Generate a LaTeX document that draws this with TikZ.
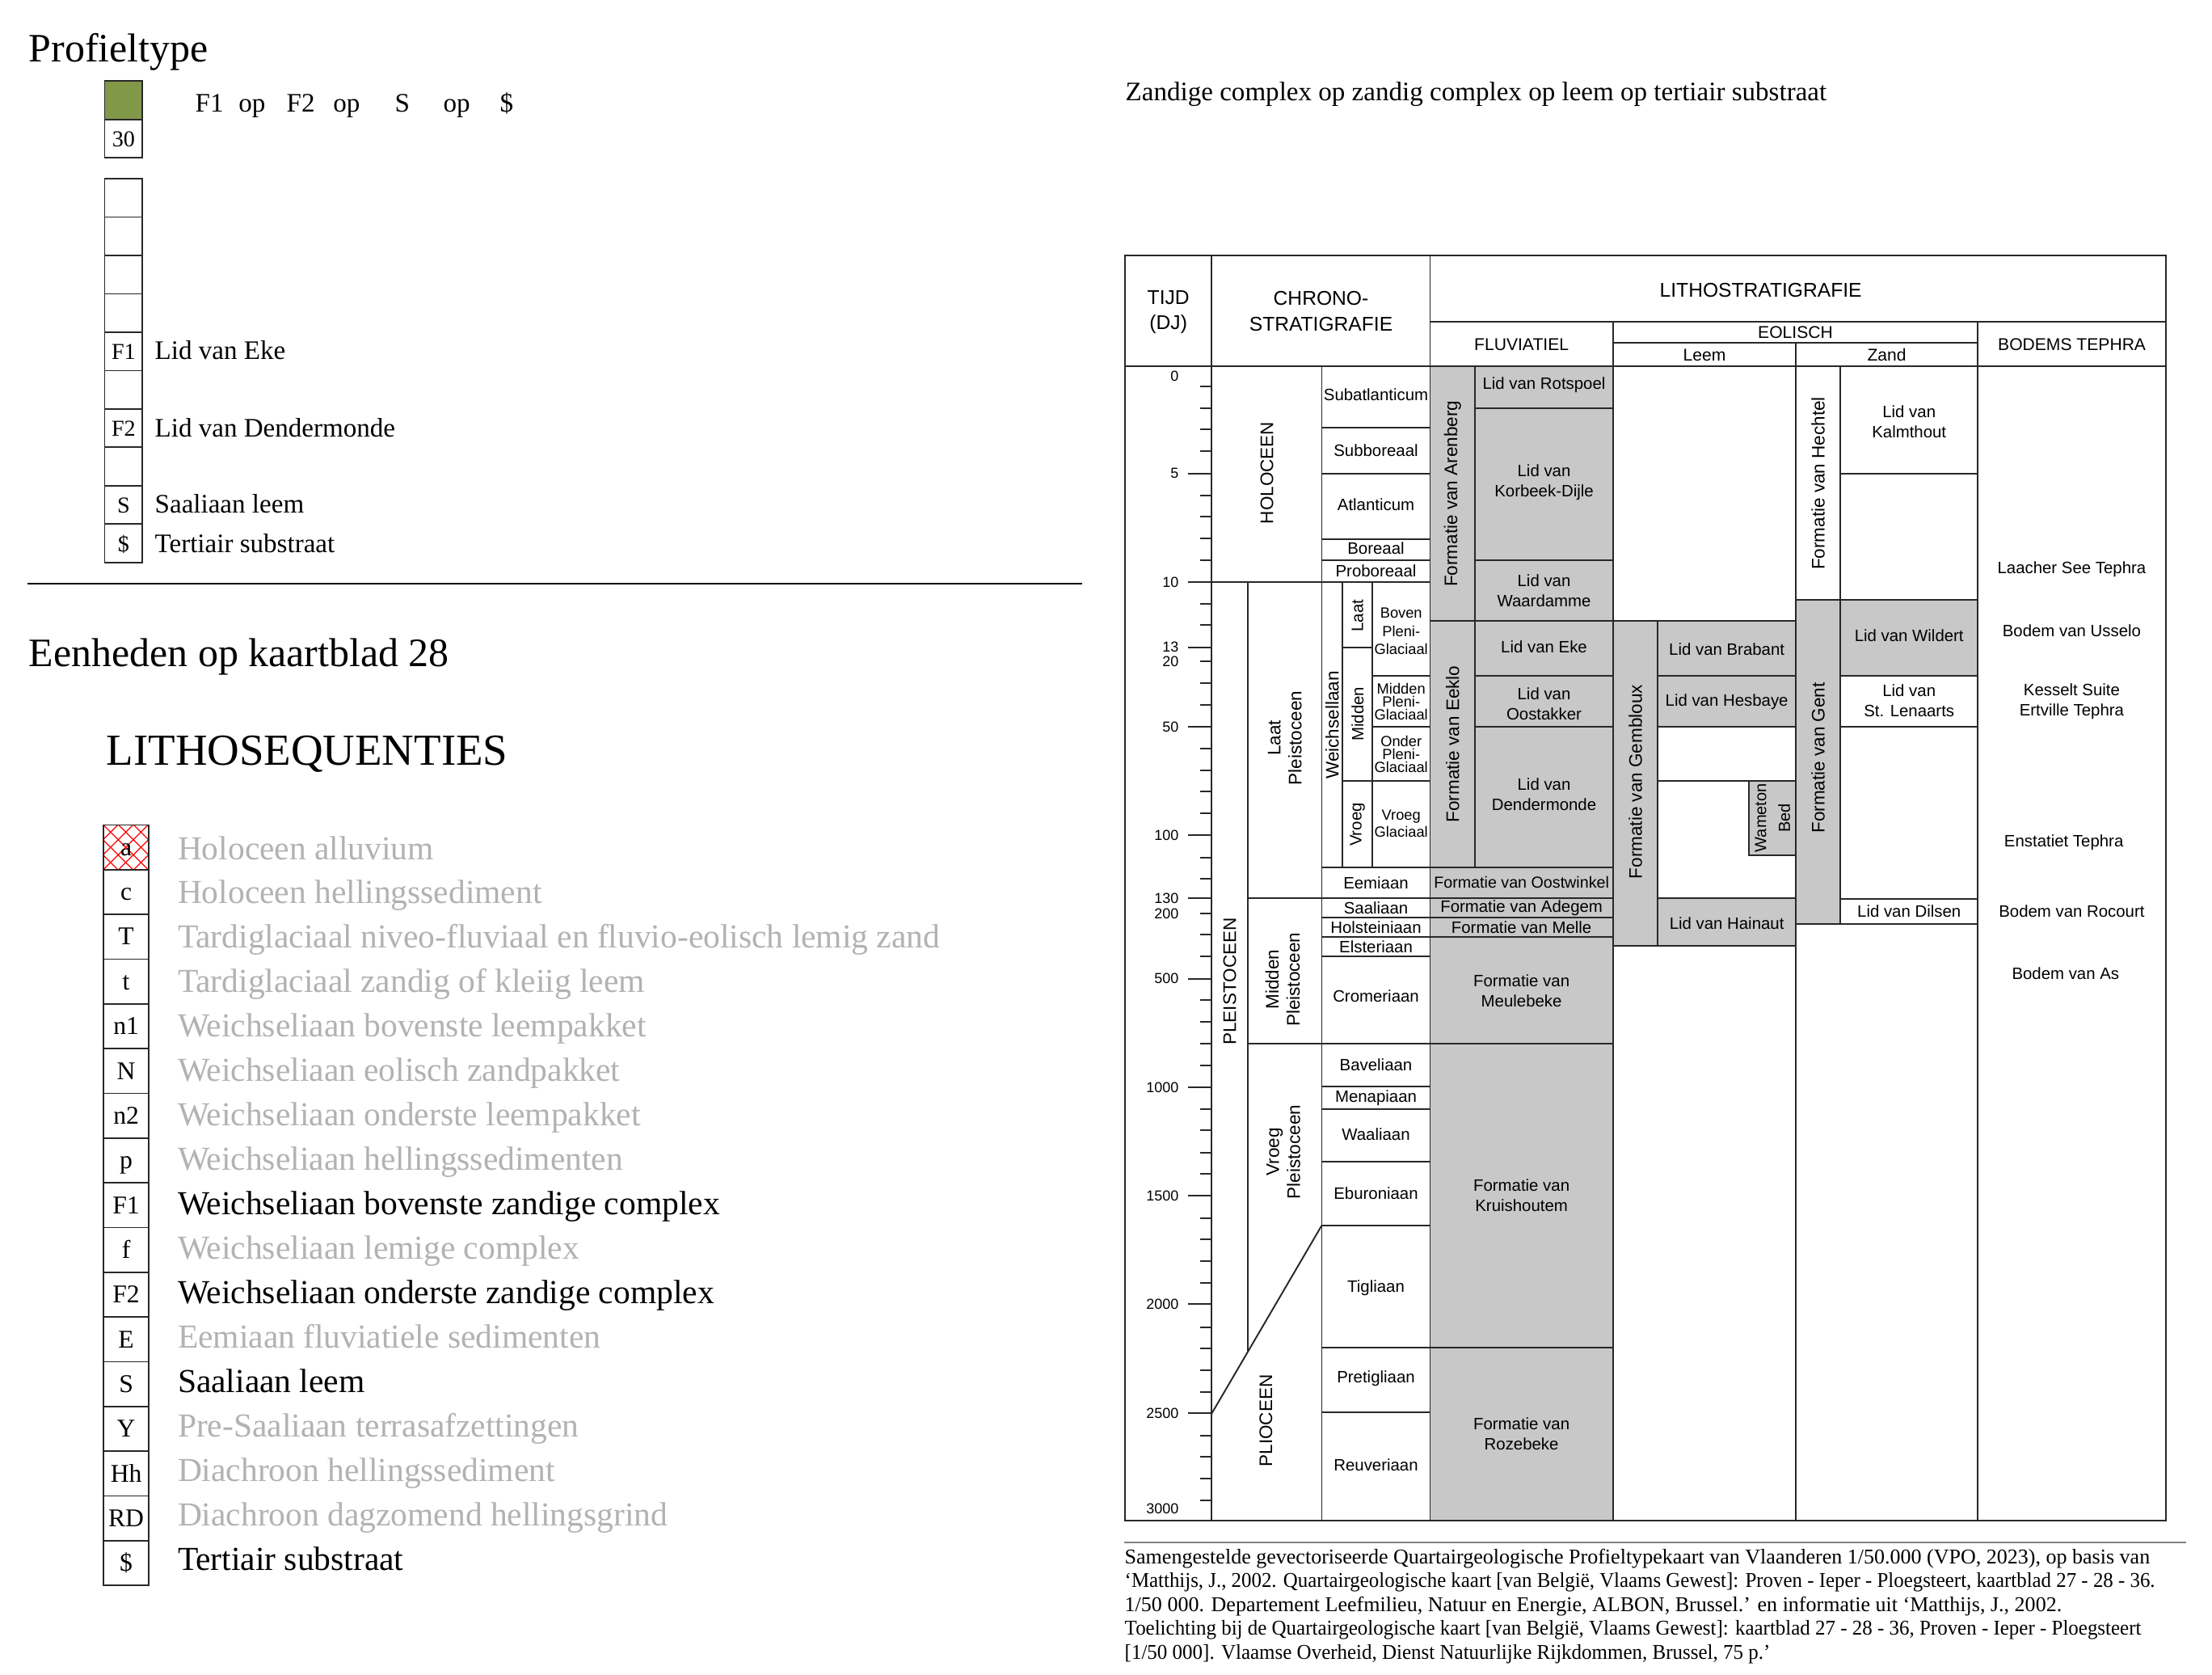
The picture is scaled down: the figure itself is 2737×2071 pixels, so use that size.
\documentclass[tikz,border=0pt]{standalone}
\usepackage{fontspec}
\setmainfont{Liberation Serif}
\newfontfamily\chartfont{Liberation Sans}
\definecolor{gfill}{RGB}{200,200,200}
\definecolor{olivegr}{RGB}{130,152,73}
\definecolor{ltext}{RGB}{178,178,178}
\definecolor{lin}{RGB}{40,40,40}
\begin{document}
\begin{tikzpicture}[x=0.01cm,y=-0.01cm,
  cl/.style={draw=lin, line width=0.55pt},
  gcell/.style={cl, fill=gfill},
  wcell/.style={cl, fill=white},
  outer/.style={draw=lin, line width=0.8pt},
  ct/.style={font=\chartfont\fontsize{5.8}{7.1}\selectfont, align=center, inner sep=0pt},
  cts/.style={font=\chartfont\fontsize{5.2}{6.4}\selectfont, align=center, inner sep=0pt},
  ctr/.style={font=\chartfont\fontsize{6.4}{7.4}\selectfont, align=center, inner sep=0pt, rotate=90},
  ctrs/.style={font=\chartfont\fontsize{5.8}{7}\selectfont, align=center, inner sep=0pt, rotate=90},
  hd/.style={font=\chartfont\fontsize{7}{8.9}\selectfont, align=center, inner sep=0pt},
  sh/.style={font=\chartfont\fontsize{6}{7}\selectfont, inner sep=0pt},
  tk/.style={font=\chartfont\fontsize{5.1}{6}\selectfont, anchor=east, inner sep=0pt},
  sbox/.style={draw=lin, line width=0.5pt, minimum width=0.468cm, minimum height=0.4746cm, inner sep=0pt, font=\fontsize{8}{9}\selectfont, text height=0.68em, text depth=0.1em},
  legbox/.style={draw=lin, line width=0.5pt, minimum width=0.562cm, minimum height=0.5534cm, inner sep=0pt, font=\fontsize{9}{10}\selectfont, text height=0.68em, text depth=0.1em},
  legtext/.style={font=\fontsize{11.8}{13}\selectfont, anchor=base west, inner sep=0pt},
  ser/.style={font=\fontsize{9.4}{11}\selectfont, anchor=base west, inner sep=0pt},
  big/.style={font=\fontsize{14.2}{16}\selectfont, anchor=base west, inner sep=0pt},
  captxt/.style={font=\fontsize{7.4}{8.4}\selectfont, anchor=base west, inner sep=0pt}
]
\useasboundingbox (0,0) rectangle (2737,2071);
\fill[white] (0,0) rectangle (2737,2071);

% ---------------- Profieltype ----------------
\node[big] (ptitle) at (35,76.8) {Profieltype};
\fill[olivegr] (129.5,100) rectangle (176.3,148);
\draw[draw=lin, line width=0.5pt] (129.5,100) rectangle (176.3,148);
\node[sbox] (p30) at (152.9,171.3) {30};
\node[ser] (f1a) at (241,138) {F1};
\node[ser] (op1) at (294.6,138) {op};
\node[ser] (f2a) at (354,138) {F2};
\node[ser] (op2) at (411.6,138) {op};
\node[ser] (sa) at (488,138) {S};
\node[ser] (op3) at (548,138) {op};
\node[ser] (da) at (618,138) {\$};
\foreach \i/\c in {1/,2/,3/,4/,5/F1,6/,7/F2,8/,9/S,10/\$}{
  \pgfmathsetmacro{\yc}{221.1+(\i-0.5)*47.46}
  \node[sbox] (sb\i) at (152.9,\yc) {\c};
}
\node[ser] (eke) at (191,444.6) {Lid van Eke};
\node[ser] (dend) at (191,540) {Lid van Dendermonde};
\node[ser] (saal) at (191,634) {Saaliaan leem};
\node[ser] (tert) at (191,683.4) {Tertiair substraat};
\draw[black, line width=0.6pt] (33.5,721.6) -- (1339,721.6);

% ---------------- Eenheden ----------------
\node[big] (eenh) at (35,824) {Eenheden op kaartblad 28};
\node[big, font=\fontsize{15.6}{17}\selectfont] (lithoseq) at (131,946) {LITHOSEQUENTIES};
\begin{scope}
  \clip (128,1020.4) rectangle (184.2,1075.7);
  \foreach \k in {-4,...,4}{
    \draw[red, line width=0.35pt] (128+\k*18.73,1020.4) -- ++(56,56);
    \draw[red, line width=0.35pt] (128+\k*18.73,1075.7) -- ++(56,-56);
  }
\end{scope}
\foreach \i/\c/\t/\col in {
 1/a/Holoceen alluvium/ltext,
 2/c/Holoceen hellingssediment/ltext,
 3/T/Tardiglaciaal niveo-fluviaal en fluvio-eolisch lemig zand/ltext,
 4/t/Tardiglaciaal zandig of kleiig leem/ltext,
 5/n1/Weichseliaan bovenste leempakket/ltext,
 6/N/Weichseliaan eolisch zandpakket/ltext,
 7/n2/Weichseliaan onderste leempakket/ltext,
 8/p/Weichseliaan hellingssedimenten/ltext,
 9/F1/Weichseliaan bovenste zandige complex/black,
 10/f/Weichseliaan lemige complex/ltext,
 11/F2/Weichseliaan onderste zandige complex/black,
 12/E/Eemiaan fluviatiele sedimenten/ltext,
 13/S/Saaliaan leem/black,
 14/Y/Pre-Saaliaan terrasafzettingen/ltext,
 15/Hh/Diachroon hellingssediment/ltext,
 16/RD/Diachroon dagzomend hellingsgrind/ltext,
 17/\$/Tertiair substraat/black}{
  \pgfmathsetmacro{\yc}{1020.4+(\i-0.5)*55.34}
  \pgfmathsetmacro{\yt}{1063+(\i-1)*54.95}
  \node[legbox] (lb\i) at (156.1,\yc) {\c};
  \node[legtext, text=\col] (lt\i) at (219.3,\yt) {\t};
}

% ---------------- right title ----------------
\node[ser] (ztitle) at (1392,124) {Zandige complex op zandig complex op leem op tertiair substraat};

% ---------------- chart: chrono cells ----------------
\draw[wcell] (1499.4,453.3) rectangle (1635.5,720);
\foreach \a/\b in {453.3/529.3,529.3/585.7,585.7/666.7,666.7/692.7,692.7/720,
  1072.7/1111,1111/1135.3,1135.3/1159.3,1159.3/1183,1183/1291,1291/1344,1344/1371.7,
  1371.7/1437.3,1437.3/1515.7,1515.7/1666.7,1666.7/1746.7,1746.7/1881}
  \draw[cl] (1635.5,\a) rectangle (1769.5,\b);
\draw[cl] (1544,720) rectangle (1635.5,1111);
\draw[cl] (1544,1111) rectangle (1635.5,1291);
\draw[cl] (1544,1291) -- (1544,1672);
\draw[cl] (1635.5,1291) -- (1635.5,1881);
\draw[cl] (1635.5,1515.7) -- (1499.4,1748.3);
\draw[cl] (1635.5,720) rectangle (1661.4,1072.7);
\draw[cl] (1661.4,720) rectangle (1698,800.7);
\draw[cl] (1661.4,800.7) rectangle (1698,965.7);
\draw[cl] (1661.4,965.7) rectangle (1698,1072.7);
\draw[cl] (1698,720) rectangle (1769.5,835.7);
\draw[cl] (1698,835.7) rectangle (1769.5,899);
\draw[cl] (1698,899) rectangle (1769.5,965.7);
\draw[cl] (1698,965.7) rectangle (1769.5,1072.7);

% ---------------- chart: fluviatiel ----------------
\draw[gcell] (1769.5,453.3) rectangle (1825.3,768.3);
\draw[gcell] (1825.3,453.3) rectangle (1995.8,505);
\draw[gcell] (1825.3,505) rectangle (1995.8,692.7);
\draw[gcell] (1825.3,692.7) rectangle (1995.8,768.3);
\draw[gcell] (1769.5,768.3) rectangle (1825.3,1072.7);
\draw[gcell] (1825.3,768.3) rectangle (1995.8,835.7);
\draw[gcell] (1825.3,835.7) rectangle (1995.8,899);
\draw[gcell] (1825.3,899) rectangle (1995.8,1072.7);
\foreach \a/\b in {1072.7/1111,1111/1135.3,1135.3/1159.3,1159.3/1291,1291/1666.7,1666.7/1881}
  \draw[gcell] (1769.5,\a) rectangle (1995.8,\b);

% ---------------- chart: eolisch leem ----------------
\draw[gcell] (1995.8,768.3) rectangle (2051.3,1170);
\draw[gcell] (2051.3,768.3) rectangle (2222,835.7);
\draw[gcell] (2051.3,835.7) rectangle (2222,899);
\draw[wcell] (2051.3,899) rectangle (2222,965.7);
\draw[wcell] (2051.3,965.7) rectangle (2222,1111);
\draw[gcell] (2164.3,965.7) rectangle (2222,1057.7);
\draw[gcell] (2051.3,1111) rectangle (2222,1170);

% ---------------- chart: eolisch zand ----------------
\draw[wcell] (2222,453.3) rectangle (2277.2,741.7);
\draw[wcell] (2277.2,453.3) rectangle (2447.3,585.7);
\draw[wcell] (2277.2,585.7) rectangle (2447.3,741.7);
\draw[gcell] (2222,741.7) rectangle (2277.2,1143.3);
\draw[gcell] (2277.2,741.7) rectangle (2447.3,835.7);
\draw[wcell] (2277.2,835.7) rectangle (2447.3,899);
\draw[wcell] (2277.2,899) rectangle (2447.3,1112);
\draw[wcell] (2277.2,1112) rectangle (2447.3,1143.3);

% ---------------- chart: frame ----------------
\draw[cl] (1769.5,398.3) -- (2680,398.3);
\draw[cl] (1995.8,424.3) -- (2447.3,424.3);
\draw[cl] (1392,453.3) -- (2680,453.3);
\draw[cl] (1499.4,316) -- (1499.4,1881);
\draw[cl] (1769.5,316) -- (1769.5,1881);
\draw[cl] (1995.8,398.3) -- (1995.8,1881);
\draw[cl] (2447.3,398.3) -- (2447.3,1881);
\draw[cl] (2222,424.3) -- (2222,1881);
\draw[outer] (1392,316) rectangle (2680,1881);

% ticks
\foreach \y in {585.7,720,800.7,899,1033.3,1111,1210.7,1345,1479.3,1613.3,1748.3}
  \draw[cl] (1470,\y) -- (1499.4,\y);
\foreach \y in {478.3,505,531,558.3,612.7,639.3,666,692.7,746.7,773.3,818.3,845,871.7,
  925.7,952.7,979.3,1006,1060.7,1087.3,1130,1156,1182.7,1237.3,1264,1291,1317.7,
  1371.7,1398.3,1425.7,1452.3,1506.7,1533.3,1560,1586.7,1641.7,1668.3,1695,1721.7,
  1775.7,1802.3,1829.3,1856}
  \draw[cl] (1485,\y) -- (1499.4,\y);
\foreach \y/\t in {465/0,585.7/5,720/10,800.7/13,818.3/20,899/50,1033.3/100,1111/130,
  1130/200,1210.7/500,1345/1000,1479.3/1500,1613.3/2000,1748.3/2500,1866/3000}
  \node[tk] (tk\t) at (1459,\y) {\t};

% header texts
\node[hd] (tijd) at (1445.7,386) {TIJD\\(DJ)};
\node[hd] (chrono) at (1634.5,385) {CHRONO-\\STRATIGRAFIE};
\node[hd] (litho) at (2178.6,359.3) {LITHOSTRATIGRAFIE};
\node[sh] (fluv) at (1882.6,426.7) {FLUVIATIEL};
\node[sh] (eol) at (2221.5,411.7) {EOLISCH};
\node[sh] (leem) at (2109,439.3) {Leem};
\node[sh] (zand) at (2334.6,439.3) {Zand};
\node[sh] (bodem) at (2563.6,426.7) {BODEMS TEPHRA};

% chrono texts
\node[ctr] (holo) at (1567.5,585) {HOLOCEEN};
\node[ctr] (pleis) at (1521.7,1214) {PLEISTOCEEN};
\node[ctr] (plio) at (1566.3,1757.5) {PLIOCEEN};
\node[ctr] (laatp) at (1589.8,913) {Laat\\Pleistoceen};
\node[ctr] (middenp) at (1587,1211.7) {Midden\\Pleistoceen};
\node[ctr] (vroegp) at (1588,1425) {Vroeg\\Pleistoceen};
\node[ctr] (weich) at (1648.4,897) {Weichsellaan};
\node[ctrs] (laat) at (1679.7,761.7) {Laat};
\node[ctrs] (midden) at (1679.7,883.3) {Midden};
\node[ctrs] (vroeg) at (1679.7,1020) {Vroeg};
\node[cts] (boven) at (1733.7,780.8) {Boven\\Pleni-\\Glaciaal};
\node[cts, font=\chartfont\fontsize{5.2}{4.6}\selectfont] (mpg) at (1733.7,868) {Midden\\Pleni-\\Glaciaal};
\node[cts, font=\chartfont\fontsize{5.2}{4.6}\selectfont] (opg) at (1733.7,933) {Onder\\Pleni-\\Glaciaal};
\node[cts, font=\chartfont\fontsize{5.2}{6}\selectfont] (vg) at (1733.7,1018.8) {Vroeg\\Glaciaal};
\node[ct] (subat) at (1702.5,488.3) {Subatlanticum};
\node[ct] (subbo) at (1702.5,556.7) {Subboreaal};
\node[ct] (atl) at (1702.5,624) {Atlanticum};
\node[ct] (bor) at (1702.5,678.3) {Boreaal};
\node[ct] (probor) at (1702.5,706) {Proboreaal};
\node[ct] (eem) at (1702.5,1091.7) {Eemiaan};
\node[ct] (saali) at (1702.5,1123.3) {Saaliaan};
\node[ct] (holst) at (1702.5,1147) {Holsteiniaan};
\node[ct] (elst) at (1702.5,1171) {Elsteriaan};
\node[ct] (crom) at (1702.5,1231.7) {Cromeriaan};
\node[ct] (bav) at (1702.5,1316.7) {Baveliaan};
\node[ct] (men) at (1702.5,1358.3) {Menapiaan};
\node[ct] (waal) at (1702.5,1403.3) {Waaliaan};
\node[ct] (ebur) at (1702.5,1476) {Eburoniaan};
\node[ct] (tigl) at (1702.5,1592.7) {Tigliaan};
\node[ct] (pretig) at (1702.5,1705) {Pretigliaan};
\node[ct] (reuv) at (1702.5,1811.7) {Reuveriaan};

% fluviatiel texts
\node[ctr] (aren) at (1797.4,610.8) {Formatie van Arenberg};
\node[ctr] (eeklo) at (1797.4,920.5) {Formatie van Eeklo};
\node[ct] (rots) at (1910.5,476) {Lid van Rotspoel};
\node[ct] (korb) at (1910.5,597) {Lid van\\Korbeek-Dijle};
\node[ct] (waard) at (1910.5,730.5) {Lid van\\Waardamme};
\node[ct] (lideke) at (1910.5,800.5) {Lid van Eke};
\node[ct] (oost) at (1910.5,870.5) {Lid van\\Oostakker};
\node[ct] (liddend) at (1910.5,982.5) {Lid van\\Dendermonde};
\node[ct, font=\chartfont\fontsize{5.6}{7}\selectfont] (oostw) at (1882.6,1091) {Formatie van Oostwinkel};
\node[ct] (adeg) at (1882.6,1123.3) {Formatie van Adegem};
\node[ct] (melle) at (1882.6,1147) {Formatie van Melle};
\node[ct] (meul) at (1882.6,1225.8) {Formatie van\\Meulebeke};
\node[ct] (kruis) at (1882.6,1479) {Formatie van\\Kruishoutem};
\node[ct] (roze) at (1882.6,1774) {Formatie van\\Rozebeke};

% eolisch texts
\node[ctr] (gemb) at (2023.5,967) {Formatie van Gembloux};
\node[ct] (brab) at (2136.6,802.7) {Lid van Brabant};
\node[ct] (hesb) at (2136.6,868.3) {Lid van Hesbaye};
\node[ct] (hain) at (2136.6,1141.7) {Lid van Hainaut};
\node[ctrs, font=\chartfont\fontsize{5.7}{8.4}\selectfont] (wam) at (2193.2,1011.7) {Wameton\\Bed};
\node[ctr] (hecht) at (2249.6,598) {Formatie van Hechtel};
\node[ctr] (gent) at (2249.6,937.5) {Formatie van Gent};
\node[ct] (kalm) at (2362.2,522) {Lid van\\Kalmthout};
\node[ct] (wild) at (2362.2,785.7) {Lid van Wildert};
\node[ct] (stlen) at (2362.2,867) {Lid van\\St. Lenaarts};
\node[ct] (dils) at (2362.2,1127.5) {Lid van Dilsen};

% tephra texts
\node[ct] (laach) at (2563.4,704.3) {Laacher See Tephra};
\node[ct] (uss) at (2563.4,780) {Bodem van Usselo};
\node[ct] (kess) at (2563.4,867.5) {Kesselt Suite\\Ertville Tephra};
\node[ct] (enst) at (2553.6,1041.7) {Enstatiet Tephra};
\node[ct] (roc) at (2563.4,1126.7) {Bodem van Rocourt};
\node[ct] (asb) at (2555.8,1204) {Bodem van As};

% ---------------- caption ----------------
\draw[draw={rgb,255:red,130;green,130;blue,130}, line width=0.5pt] (1391,1908) -- (2705,1908);
\node[captxt] (c1) at (1391,1934) {Samengestelde gevectoriseerde Quartairgeologische Profieltypekaart van Vlaanderen 1/50.000 (VPO, 2023), op basis van};
\node[captxt] (c2) at (1391,1963.5) {\scalebox{0.956}[1]{‘Matthijs, J., 2002. Quartairgeologische kaart [van België, Vlaams Gewest]: Proven - Ieper - Ploegsteert, kaartblad 27 - 28 - 36.}};
\node[captxt] (c3) at (1391,1993) {1/50 000. Departement Leefmilieu, Natuur en Energie, ALBON, Brussel.’ en informatie uit ‘Matthijs, J., 2002.};
\node[captxt] (c4) at (1391,2022.5) {\scalebox{0.959}[1]{Toelichting bij de Quartairgeologische kaart [van België, Vlaams Gewest]: kaartblad 27 - 28 - 36, Proven - Ieper - Ploegsteert}};
\node[captxt] (c5) at (1391,2052) {\scalebox{0.96}[1]{[1/50 000]. Vlaamse Overheid, Dienst Natuurlijke Rijkdommen, Brussel, 75 p.’}};
\end{tikzpicture}
\end{document}
